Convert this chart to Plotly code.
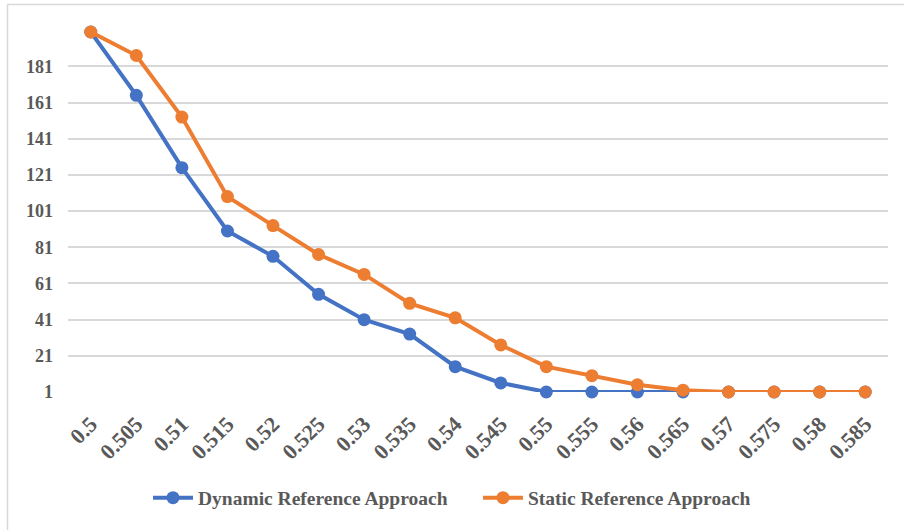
import plotly.graph_objects as go

categories = ["0.5", "0.505", "0.51", "0.515", "0.52", "0.525", "0.53", "0.535", "0.54",
              "0.545", "0.55", "0.555", "0.56", "0.565", "0.57", "0.575", "0.58", "0.585"]
dynamic = [200, 165, 125, 90, 76, 55, 41, 33, 15, 6, 1, 1, 1, 1, 1, 1, 1, 1]
static = [200, 187, 153, 109, 93, 77, 66, 50, 42, 27, 15, 10, 5, 2, 1, 1, 1, 1]
y_ticks = [1, 21, 41, 61, 81, 101, 121, 141, 161, 181]

L, R, T, B = 68, 16, 32, 138
W, H = 904, 530
pw, ph = W - L - R, H - T - B

fig = go.Figure()
fig.add_trace(go.Scatter(x=categories, y=dynamic, mode="lines+markers",
                         name="Dynamic Reference Approach",
                         line=dict(color="#4472C4", width=4),
                         marker=dict(color="#4472C4", size=13)))
fig.add_trace(go.Scatter(x=categories, y=static, mode="lines+markers",
                         name="Static Reference Approach",
                         line=dict(color="#ED7D31", width=4),
                         marker=dict(color="#ED7D31", size=13)))

font_family = "Liberation Serif"
fig.update_layout(
    width=W, height=H,
    margin=dict(l=L, r=R, t=T, b=B),
    paper_bgcolor="white", plot_bgcolor="white",
    font=dict(family=font_family, color="#595959", size=18),
    showlegend=True,
    legend=dict(orientation="h", x=(478 - L) / pw, xanchor="center",
                y=(H - B - 498) / ph, yanchor="middle",
                font=dict(family=font_family, size=19.5, color="#595959", weight="bold"),
                itemwidth=40, entrywidth=275),
    xaxis=dict(type="category", tickangle=-45, showgrid=False, showline=False,
               ticks="", range=[-0.5, len(categories) - 0.5],
               ticklabelstandoff=14,
               tickfont=dict(family=font_family, size=22, color="#595959", weight="bold")),
    yaxis=dict(range=[1, 200], tickvals=y_ticks, showgrid=True, gridcolor="#D9D9D9",
               gridwidth=1.5, zeroline=False, showline=False, ticks="",
               ticklabelstandoff=14,
               tickfont=dict(family=font_family, size=18, color="#595959", weight="bold")),
    shapes=[
        dict(type="line", xref="paper", yref="paper",
             x0=(7 - L) / pw, x1=(W - L) / pw, y0=(H - B - 4.5) / ph, y1=(H - B - 4.5) / ph,
             line=dict(color="#D9D9D9", width=1.5)),
        dict(type="line", xref="paper", yref="paper",
             x0=(7.5 - L) / pw, x1=(7.5 - L) / pw, y0=(H - B - 4) / ph, y1=(H - B - H) / ph,
             line=dict(color="#D9D9D9", width=1.5)),
    ],
)
fig.update_traces(cliponaxis=False)
fig.write_html("out.html")
